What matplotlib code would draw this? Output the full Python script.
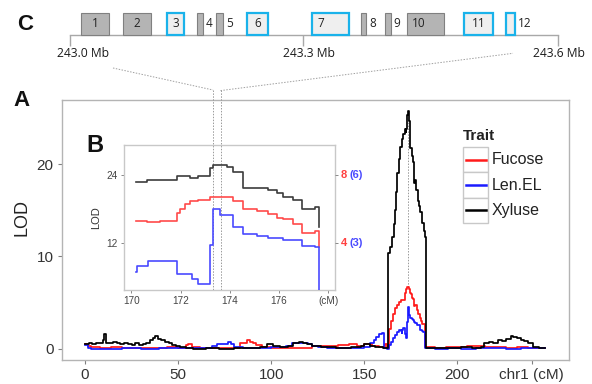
import numpy as np
import matplotlib
matplotlib.use("Agg")
import matplotlib.pyplot as plt
from matplotlib.patches import Rectangle
from matplotlib.lines import Line2D
from matplotlib.transforms import blended_transform_factory

plt.rcParams['font.family'] = ['Liberation Sans', 'DejaVu Sans']

# ---- panel A : genome-wide scan on chr1 ----
xyl_cm = [0, 2, 4, 6, 8, 9.5, 10.3, 11.2, 13, 15, 17, 19, 21, 23, 25, 27, 29, 31, 33, 35,
          36.5, 37.7, 39, 41, 43, 45, 47, 49, 51, 54, 58, 65, 72, 80, 88, 94, 97.8, 101, 105, 109,
          112, 115, 117, 119, 122, 127, 135, 143, 148, 150, 153, 156, 160,
          163.0, 164.0, 165.0, 165.8, 166.5, 167.2, 167.8, 168.5, 169.2, 170.2,
          170.6, 171.8, 172.4, 172.7, 173.2, 173.3, 173.9, 174.1, 174.6, 175.6,
          175.9, 176.2, 176.6, 176.9, 177.5, 178.0, 178.8, 179.5, 180.2, 181.0, 182.0, 182.9,
          183.2, 188, 195, 202, 208, 212.7, 214.5, 217, 219, 221.8,
          224, 226, 228.6, 230, 232, 234, 235.6, 238, 240.6, 244, 247]
xyl_lod = [0.5, 0.6, 0.5, 0.7, 0.6, 1.0, 1.6, 0.7, 0.6, 0.8, 0.6, 0.5, 0.6, 0.5, 0.4, 0.6, 0.4, 0.5, 0.7, 1.0,
           1.2, 1.4, 1.1, 1.0, 0.8, 0.6, 0.4, 0.3, 0.2, 0.1, 0.05, 0.1, 0.05, 0.1, 0.15, 0.2, 0.5, 0.3, 0.2, 0.3,
           0.6, 0.8, 0.6, 0.5, 0.3, 0.2, 0.15, 0.2, 0.3, 0.5, 0.3, 0.2, 0.15,
           10.4, 11.0, 12.1, 13.5, 15.0, 17.0, 19.0, 20.5, 21.8, 22.7,
           23.2, 23.8, 23.5, 23.8, 25.3, 25.7, 25.4, 24.6, 21.7, 21.4,
           20.9, 20.2, 19.6, 18.0, 18.3, 17.2, 16.0, 15.5, 14.8, 13.6, 12.8, 12.1,
           0.1, 0.15, 0.1, 0.2, 0.15, 0.25, 0.6, 0.8, 0.6, 1.0,
           0.9, 1.1, 1.4, 1.3, 1.2, 1.0, 0.9, 0.6, 0.25, 0.15, 0.1]

fuc_cm = [0, 1.5, 3, 8, 14, 20, 26, 32, 38, 44, 50, 54, 55.5, 57.5, 62, 70, 78, 83.4, 85, 87,
          88.5, 90, 92, 95, 100, 108, 116, 122, 126, 130, 136, 142, 146, 150, 154, 158, 161, 162,
          163.2, 164.5, 165.5, 166.5, 167.5, 168.5, 169.5, 170.2, 170.6, 171.2,
          171.8, 172.0, 172.2, 172.4, 172.7, 173.2, 173.6, 174.1, 174.6, 175.1,
          175.6, 175.9, 176.2, 176.6, 176.9, 177.5, 178.3, 179.0, 179.7, 180.5, 181.3, 182.4,
          182.6, 188, 194, 200, 205, 210, 215, 220, 226, 232, 238, 244, 247]
fuc_lod = [0.5, 0.3, 0.2, 0.15, 0.2, 0.1, 0.15, 0.1, 0.15, 0.2, 0.1, 0.4, 0.5, 0.2, 0.1, 0.1, 0.15, 0.6, 0.7, 1.0,
           0.8, 0.6, 0.4, 0.2, 0.1, 0.1, 0.15, 0.3, 0.35, 0.3, 0.45, 0.5, 0.3, 0.5, 0.3, 0.2, 0.5, 0.1,
           2.2, 3.0, 3.8, 4.4, 4.8, 5.1, 5.3, 5.33, 5.27, 5.33,
           5.8, 6.0, 6.3, 6.5, 6.53, 6.7, 6.73, 6.5, 6.0, 5.9,
           5.7, 5.5, 5.4, 5.13, 4.6, 4.73, 4.2, 3.8, 3.4, 3.0, 2.7, 2.4,
           0.2, 0.15, 0.25, 0.2, 0.35, 0.3, 0.25, 0.2, 0.15, 0.2, 0.1, 0.15, 0.1]

len_cm = [0, 1.5, 3, 10, 20, 30, 40, 50, 60, 68, 71, 74, 77, 78.5, 80, 85, 92, 100, 108, 111,
          114, 117, 120, 122, 125, 130, 140, 150, 153, 155, 156.5, 158, 159.5, 160.5, 162,
          163.2, 164.5, 165.5, 166.5, 167.5, 168.5, 169.5, 170.2, 170.3, 170.7,
          171.8, 172.4, 172.7, 173.2, 173.3, 173.9, 174.1, 174.6, 175.1, 175.6,
          176.2, 176.9, 177.5, 178.5, 179.7, 180.8, 181.5,
          182.4, 188, 195, 202, 210, 218, 226, 234, 240, 247]
len_lod = [0.4, 0.1, 0.05, 0.05, 0.1, 0.05, 0.1, 0.15, 0.1, 0.3, 0.5, 0.55, 0.8, 0.5, 0.2, 0.1, 0.1, 0.2, 0.3, 0.6,
           0.7, 0.6, 0.5, 0.35, 0.2, 0.1, 0.1, 0.2, 0.6, 1.0, 1.3, 1.6, 1.7, 0.1, 0.05,
           0.4, 0.8, 1.2, 1.5, 1.8, 2.0, 1.9, 1.75, 2.0, 2.23,
           1.65, 1.43, 1.23, 2.9, 4.5, 4.25, 3.7, 3.4, 3.33, 3.23,
           3.15, 2.88, 2.83, 2.6, 2.1, 1.9, 1.8,
           0.1, 0.05, 0.1, 0.05, 0.1, 0.1, 0.05, 0.1, 0.1, 0.1]

main_xticks = [0, 50, 100, 150, 200, 240]
main_xlabels = ['0', '50', '100', '150', '200', 'chr1 (cM)']
peak_cm = 173.6

# ---- panel B : zoom on the peak (fucose x3, Len.EL x4 to share the Xyluse scale) ----
ins_cm = [170.18, 170.23, 170.62, 170.69, 171.16, 171.84, 171.97, 172.17, 172.38, 172.45,
          172.72, 173.19, 173.30, 173.60, 173.87, 174.11, 174.55, 175.09, 175.56, 175.90,
          176.17, 176.58, 176.92, 177.46, 177.63]
ins_xyl = [22.7, 22.7, 23.2, 23.2, 23.2, 23.8, 23.8, 23.8, 23.5, 23.5,
           23.8, 25.3, 25.7, 25.7, 25.4, 24.6, 21.7, 21.7, 21.4, 20.9,
           20.2, 19.6, 18.0, 18.3, 14.9]
ins_fuc = [16.0, 16.0, 15.8, 15.8, 16.0, 17.4, 18.0, 18.9, 19.5, 19.5,
           19.6, 20.1, 20.1, 20.2, 20.2, 19.5, 18.0, 17.7, 17.1, 16.5,
           16.2, 15.4, 13.8, 14.2, 11.4]
ins_len = [7.0, 8.0, 8.0, 8.9, 8.9, 6.6, 6.6, 6.6, 6.6, 5.7,
           4.9, 11.7, 18.0, 17.0, 17.0, 14.8, 13.6, 13.3, 12.9, 12.9,
           12.6, 12.6, 11.5, 11.3, 2.0]
ins_xticks = [170, 172, 174, 176, 178]
ins_xlabels = ['170', '172', '174', '176', '(cM)']
ins_yticks = [12, 24]
ins_fuc_labels = ['4', '8']
ins_len_labels = ['(3)', '(6)']
interval_cm = [173.30, 173.62]

# ---- panel C : genes in the interval ----
mb_ticks = [243.0, 243.3, 243.6]
mb_labels = ['243.0 Mb', '243.3 Mb', '243.6 Mb']
gene_names = ['1', '2', '3', '4', '5', '6', '7', '8', '9', '10', '11', '12']
gene_start = [243.014, 243.068, 243.125, 243.163, 243.188, 243.228,
              243.310, 243.368, 243.396, 243.422, 243.490, 243.539]
gene_end = [243.050, 243.104, 243.147, 243.171, 243.197, 243.255,
            243.354, 243.374, 243.403, 243.466, 243.524, 243.550]
gene_hit = [False, False, True, False, False, True, True, False, False, False, True, True]
label_side = ['in', 'in', 'in', 'out', 'out', 'in', 'left', 'out', 'out', 'left', 'in', 'out']

traits = ['Fucose', 'Len.EL', 'Xyluse']
colors = ['#ff1a1a', '#1a1aff', '#000000']
ins_colors = ['#ff4a4a', '#4a4aff', '#3c3c3c']

W, H = 592, 384
fig = plt.figure(figsize=(W / 100, H / 100), dpi=100)


def box(x0, y0, x1, y1):
    # pixel box (top-left origin) -> figure rect
    return [x0 / W, 1 - y1 / H, (x1 - x0) / W, (y1 - y0) / H]


# main panel
ax = fig.add_axes(box(62, 100, 569, 360))
for cm, lod, c in zip([fuc_cm, len_cm, xyl_cm], [fuc_lod, len_lod, xyl_lod], colors):
    ax.plot(cm, lod, color=c, lw=1.25, drawstyle='steps-post', zorder=3)
ax.vlines(peak_cm, 6.7, 25.0, colors='#999999', linestyles=(0, (1.5, 1.5)), lw=0.7, zorder=2)
ax.set_xlim(-12.35, 260)
ax.set_ylim(-1.19, 26.92)
ax.set_xticks(main_xticks)
ax.set_xticklabels(main_xlabels)
ax.set_yticks([0, 10, 20])
ax.tick_params(length=3, width=0.8, color='#808080', labelsize=11,
               labelcolor='#333333', pad=3)
for s in ax.spines.values():
    s.set_color('#b4b4b4')
    s.set_linewidth(1.0)

# inset panel
ai = fig.add_axes(box(124, 145, 335, 290))
for v, c in zip([ins_fuc, ins_len, ins_xyl], ins_colors):
    ai.plot(ins_cm, v, color=c, lw=1.2, drawstyle='steps-post', zorder=3)
ai.set_xlim(169.7, 178.27)
ai.set_ylim(3.8, 29.27)
ai.set_xticks(ins_xticks)
ai.set_xticklabels(ins_xlabels)
ai.set_yticks(ins_yticks)
ai.tick_params(length=2.5, width=0.7, color='#888888', labelsize=7.2,
               labelcolor='#444444', pad=2)
ai.set_ylabel('LOD', fontsize=8, color='#333333', labelpad=4)
for s in ai.spines.values():
    s.set_color('#c8c8c8')
    s.set_linewidth(1.0)
ar = ai.twinx()
ar.set_ylim(ai.get_ylim())
ar.set_yticks(ins_yticks)
ar.set_yticklabels([])
ar.tick_params(length=2.5, width=0.7, color='#888888')
for s in ar.spines.values():
    s.set_visible(False)
for yv, fl, ll in zip(ins_yticks, ins_fuc_labels, ins_len_labels):
    ai.annotate(fl, (1, yv), xycoords=('axes fraction', 'data'), xytext=(4.0, 0),
                textcoords='offset points', ha='left', va='center', fontsize=8,
                color='#ff4040', fontweight='bold', annotation_clip=False)
    ai.annotate(ll, (1, yv), xycoords=('axes fraction', 'data'), xytext=(10.2, 0),
                textcoords='offset points', ha='left', va='center', fontsize=8,
                color='#4a4aff', fontweight='bold', annotation_clip=False)

# dotted interval lines running from the gene track down through the inset
tr = blended_transform_factory(ai.transData, fig.transFigure)
for xc in interval_cm:
    ai.add_line(Line2D([xc, xc], [1 - 90 / H, 1 - 290 / H], transform=tr, clip_on=False,
                       color='#9a9a9a', lw=0.7, ls=(0, (1.5, 1.5)), zorder=2))

# gene track
knots = np.array(mb_ticks)
frac = np.array([0.0, 0.4784, 1.0])


def fwd(x):
    return np.interp(x, knots, frac)


def inv(x):
    return np.interp(x, frac, knots)


ac = fig.add_axes(box(70, 12.7, 557.7, 35))
ac.set_xscale('function', functions=(fwd, inv))
ac.set_xlim(243.0, 243.6)
ac.set_ylim(0, 1)
ac.axis('off')
ac.plot([243.0, 243.6], [0, 0], color='#a8a8a8', lw=1.0, clip_on=False, zorder=1)
ac.vlines(mb_ticks, -11 / 22.3, 0, colors='#a8a8a8', lw=1.0, clip_on=False)
for xt, lab, dx in zip(mb_ticks, mb_labels, [13, 6, 1.5]):
    ac.annotate(lab, (xt, -0.81), xytext=(dx * 0.72, 0), textcoords='offset points',
                ha='center', va='center', fontsize=8.7, color='#1a1a1a',
                family=['Open Sans', 'DejaVu Sans'], annotation_clip=False)
for name, s, e, hit, side in zip(gene_names, gene_start, gene_end, gene_hit, label_side):
    fc = '#efefef' if hit else '#b4b4b4'
    ec = '#1ab2ea' if hit else '#808080'
    ac.bar(s, 1, width=e - s, bottom=0, align='edge', color=fc, edgecolor=ec,
           linewidth=1.6 if hit else 0.8, zorder=2, clip_on=False)
    kw = dict(va='center', fontsize=8.5, color='#222222',
              family=['Open Sans', 'DejaVu Sans'], annotation_clip=False)
    if side == 'in':
        ac.annotate(name, ((s + e) / 2, 0.5), ha='center', **kw)
    elif side == 'left':
        ac.annotate(name, (s, 0.5), xytext=(4.0, 0), textcoords='offset points', ha='left', **kw)
    else:
        ac.annotate(name, (e, 0.5), xytext=(2.2, 0), textcoords='offset points', ha='left', **kw)

# overlay: letters, legend, connectors
ov = fig.add_axes([0, 0, 1, 1])
ov.set_xlim(0, W)
ov.set_ylim(H, 0)
ov.axis('off')
ov.patch.set_alpha(0)
ov.plot([113, 213], [68, 90], color='#a0a0a0', lw=0.7, ls=(0, (1.5, 1.5)))
ov.plot([220.5, 513], [90.6, 53.3], color='#a0a0a0', lw=0.7, ls=(0, (1.5, 1.5)))
for t, (x, y, fs) in zip(['A', 'B', 'C'], [(22, 101, 16), (95, 146, 17), (25, 24, 16)]):
    ov.text(x, y, t, fontsize=fs, fontweight='bold', ha='center', va='center', color='#111111')
ov.text(22, 218, 'LOD', rotation=90, fontsize=13, ha='center', va='center', color='#222222')
ov.text(463, 136, 'Trait', fontsize=11, fontweight='bold', ha='left', va='center', color='#222222')
for i, (t, c) in enumerate(zip(traits, colors)):
    y0 = 147 + 25.3 * i
    ov.add_patch(Rectangle((463, y0), 25, 25.3, fc='white', ec='#c8c8c8', lw=1.0))
    ov.plot([466, 486], [y0 + 12.6, y0 + 12.6], color=c, lw=1.8)
    ov.text(492, y0 + 13, t, fontsize=11.5, ha='left', va='center', color='#222222')

fig.savefig('out.png', dpi=100)
